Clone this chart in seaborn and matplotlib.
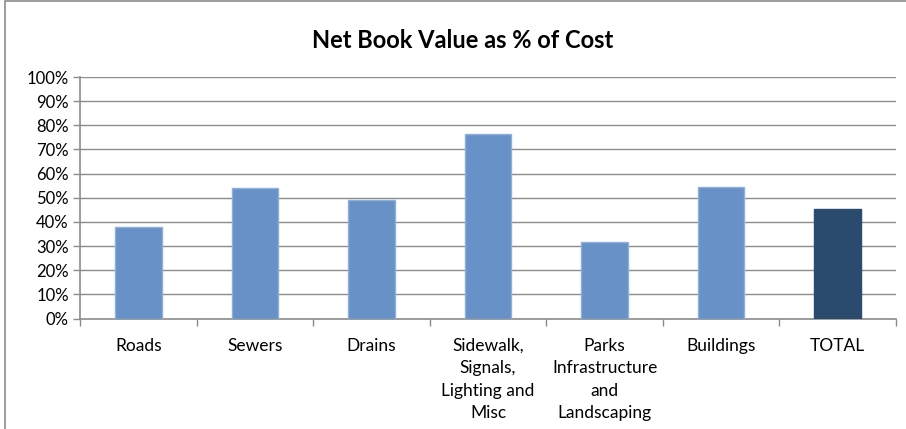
import matplotlib
matplotlib.use("Agg")
import matplotlib.pyplot as plt
import seaborn as sns
import pandas as pd
import numpy as np
from matplotlib.ticker import FuncFormatter, FixedLocator
from matplotlib.patches import Rectangle

categories = ["Roads", "Sewers", "Drains", "Sidewalk,\nSignals,\nLighting and\nMisc",
              "Parks\nInfrastructure\nand\nLandscaping", "Buildings", "TOTAL"]
values = [37.7, 54.1, 49.0, 76.6, 31.5, 54.5, 45.5]
bar_colors = ["#6791C7", "#6791C7", "#6791C7", "#6791C7", "#6791C7", "#6791C7", "#2A4A6E"]
y_ticks = [0, 10, 20, 30, 40, 50, 60, 70, 80, 90, 100]

sns.set_theme(style="white")
plt.rcParams['font.family'] = ['Lato', 'DejaVu Sans']

df = pd.DataFrame({"cat": categories, "val": values})

fig = plt.figure(figsize=(9.06, 4.29), dpi=100)
ax = fig.add_axes([80/906, 1-318.5/429, 816/906, (318.5-77)/429])

sns.barplot(data=df, x="cat", y="val", hue="cat", palette=bar_colors, width=0.4,
            legend=False, ax=ax, saturation=1, zorder=3)
for p, c in zip(ax.patches, bar_colors):
    p.set_edgecolor("#8FB0DA" if c != "#2A4A6E" else "#2A4A6E")
    p.set_linewidth(1.0)

ax.set_xlim(-0.5, len(categories) - 0.5)
ax.set_ylim(0, 100)
ax.yaxis.set_major_locator(FixedLocator(y_ticks))
ax.yaxis.set_major_formatter(FuncFormatter(lambda v, _: f"{int(v)}%"))
ax.grid(axis="y", color="#8C8C8C", linewidth=1.0, zorder=0)
ax.set_axisbelow(True)

ax.set_xlabel("")
ax.set_ylabel("")
for s in ["top", "right"]:
    ax.spines[s].set_visible(False)
for s in ["left", "bottom"]:
    ax.spines[s].set_color("#8C8C8C")
    ax.spines[s].set_linewidth(1.2)

ax.tick_params(axis="y", which="major", length=5, width=1, color="#8C8C8C",
               labelsize=12, labelcolor="#000000", pad=3, left=True)
ax.set_xticks(range(len(categories)))
ax.set_xticklabels(categories, fontsize=12.5, linespacing=1.5, va="top")
ax.tick_params(axis="x", which="major", length=0, pad=14, labelcolor="#000000")
ax.set_xticks(np.arange(-0.5, len(categories), 1.0), minor=True)
ax.tick_params(axis="x", which="minor", length=5, width=1, color="#8C8C8C", bottom=True)

fig.text(463/906, 1-40/429, "Net Book Value as % of Cost", ha="center", va="center",
         fontsize=17, fontweight="bold", color="#000000")

# chart border (partially cropped in the original)
fig.patches.append(Rectangle((4.5/906, -0.1), 1.2, 1 - 1.5/429 + 0.1, transform=fig.transFigure,
                             fill=False, edgecolor="#8C8C8C", linewidth=1.2))

fig.savefig("out.png", dpi=100)
